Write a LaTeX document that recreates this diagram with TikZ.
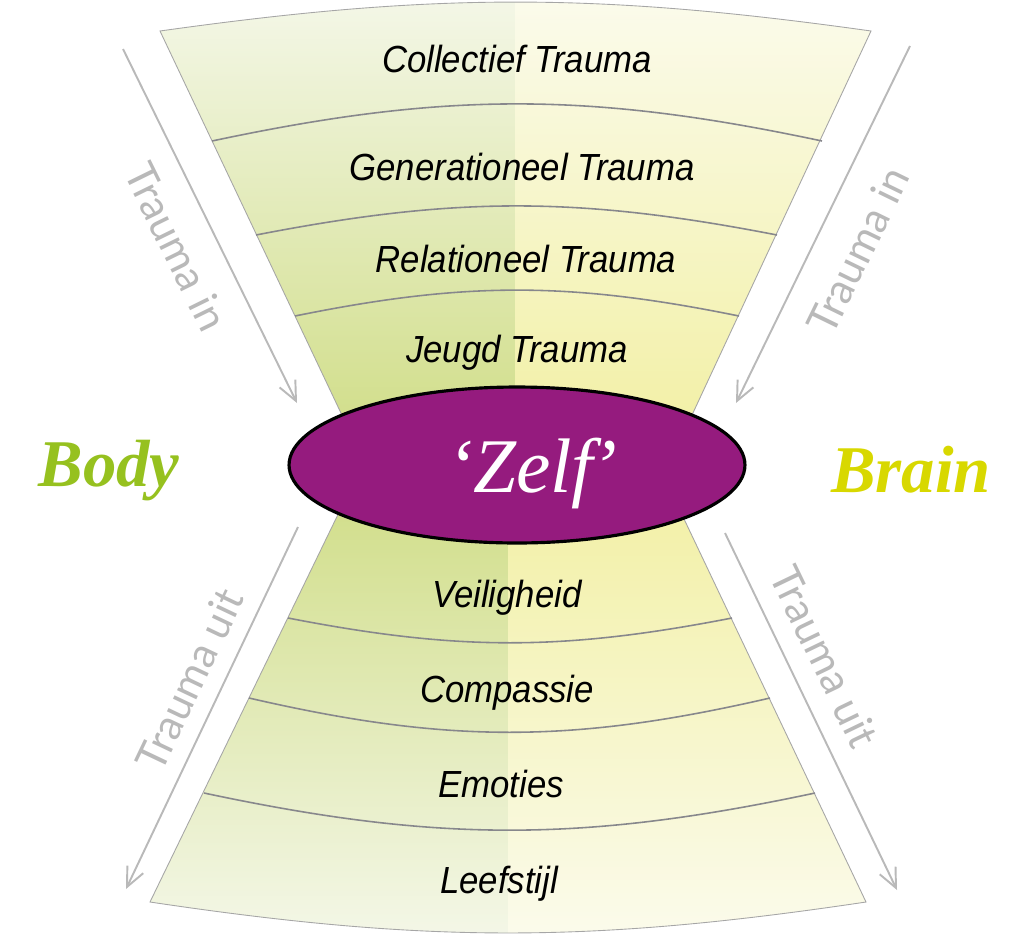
\documentclass[tikz,border=0pt]{standalone}
\usepackage{fontspec}
\setmainfont{Liberation Serif}
\newfontfamily\bandfont{Liberation Sans}[FakeStretch=0.92]
\newfontfamily\arrfont{Lato}
\usepackage{xcolor}
\usetikzlibrary{positioning, arrows.meta, shapes.geometric}
\definecolor{zelfpurple}{RGB}{149,27,126}
\definecolor{bodygreen}{RGB}{150,193,31}
\definecolor{brainyellow}{RGB}{216,216,0}
\definecolor{lgtop}{RGB}{244,247,232}
\definecolor{lgmid}{RGB}{209,222,138}
\definecolor{rgtop}{RGB}{251,251,236}
\definecolor{rgmid}{RGB}{242,240,166}
\definecolor{arrgray}{RGB}{185,185,185}
\definecolor{sepgray}{RGB}{135,135,140}
\tikzset{
  lbl/.style={font=\bandfont\itshape\fontsize{21.5}{24}\selectfont, anchor=base, inner sep=0pt},
  sep/.style={draw=sepgray, line width=0.9pt},
  side/.style={draw=gray!70, line width=0.5pt},
  arr/.style={draw=arrgray, line width=1.1pt, -{Straight Barb[length=11pt, width=10pt]}},
  tin/.style={font=\arrfont\fontsize{24}{26}\selectfont, text=arrgray, inner sep=0pt, sloped},
  zelf/.style={ellipse, draw=black, line width=1.8pt, fill=zelfpurple,
               minimum width=9.12cm, minimum height=3.12cm, inner sep=0pt},
  zelftxt/.style={font=\itshape\fontsize{44}{46}\selectfont, text=white, anchor=base, inner sep=0pt},
  sidelbl/.style={font=\bfseries\itshape\fontsize{38}{40}\selectfont, anchor=base, inner sep=0pt}
}

\begin{document}
\begin{tikzpicture}[x=0.02cm, y=-0.02cm]
  \useasboundingbox (0,0) rectangle (1024,934);
  % upper funnel
  \begin{scope}
    \clip (160,31) to[bend left=8] (871,31) -- (685,430) -- (349,430) -- cycle;
    \shade[top color=lgtop, bottom color=lgmid] (150,-5) rectangle (515,430);
    \shade[top color=rgtop, bottom color=rgmid] (515,-5) rectangle (880,430);
  \end{scope}
  \draw[side] (349,430) -- (160,31) to[bend left=8] (871,31) -- (685,430);
  \draw[sep] (212,141) to[bend left=12] (822,141);
  \draw[sep] (256,235) to[bend left=11] (777,235);
  \draw[sep] (295,316) to[bend left=11.5] (739,316);
  % lower funnel
  \begin{scope}
    \clip (345,500) -- (675,500) -- (866,902) to[bend left=8.5] (150,902) -- cycle;
    \shade[top color=lgmid, bottom color=lgtop] (140,495) rectangle (508,940);
    \shade[top color=rgmid, bottom color=rgtop] (508,495) rectangle (880,940);
  \end{scope}
  \draw[side] (345,500) -- (150,902) to[bend right=8.5] (866,902) -- (675,500);
  \draw[sep] (288,618) to[bend right=11] (732,618);
  \draw[sep] (249,698) to[bend right=13] (770,698);
  \draw[sep] (204,793) to[bend right=12] (815,793);

  \node[lbl] (collectief) at (517,72) {Collectief Trauma};
  \node[lbl] (generationeel) at (522,180) {Generationeel Trauma};
  \node[lbl] (relationeel) at (526,272) {Relationeel Trauma};
  \node[lbl] (jeugd) at (517,362) {Jeugd Trauma};
  \node[lbl] (veiligheid) at (507,607) {Veiligheid};
  \node[lbl] (compassie) at (507,702) {Compassie};
  \node[lbl] (emoties) at (501,797) {Emoties};
  \node[lbl] (leefstijl) at (499,893) {Leefstijl};

  % centre
  \node[zelf] (zelf) at (517,465) {};
  \node[zelftxt] (zelfnaam) at (532,492) {‘Zelf\kern-0.03em’};
  \node[sidelbl, text=bodygreen] (body) at (109,486) {Body};
  \node[sidelbl, text=brainyellow] (brain) at (911,492) {Brain};

  % trauma arrows
  \coordinate (inL1) at (123,49);  \coordinate (inL2) at (297,403);
  \coordinate (inR1) at (910,46);  \coordinate (inR2) at (736,403);
  \coordinate (uitL1) at (298,527); \coordinate (uitL2) at (126,889);
  \coordinate (uitR1) at (725,533); \coordinate (uitR2) at (897,890);
  \draw[arr] (inL1) -- node[tin, pos=0.51, below=13pt] {Trauma in} (inL2);
  \draw[arr] (inR1) -- node[tin, pos=0.52, below=15pt] {Trauma in} (inR2);
  \draw[arr] (uitL1) -- node[tin, pos=0.46, above=9pt] {Trauma uit} (uitL2);
  \draw[arr] (uitR1) -- node[tin, pos=0.39, above=11pt] {Trauma uit} (uitR2);
\end{tikzpicture}
\end{document}
